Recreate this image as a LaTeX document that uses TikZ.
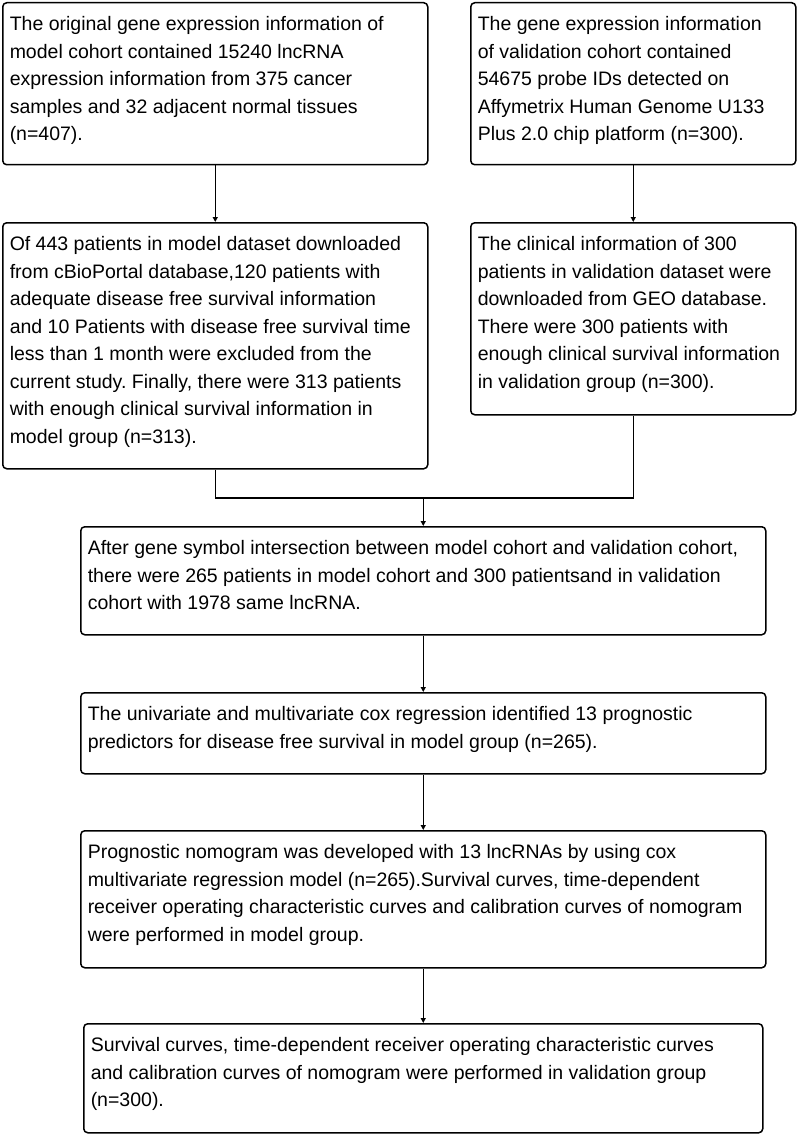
\documentclass[tikz,border=0pt]{standalone}
\usepackage{fontspec}
\setmainfont{Liberation Sans}
\usepackage{tikz}
\usetikzlibrary{arrows.meta}
\frenchspacing

\newcommand{\flowtext}[3]{\parbox[t][#2][t]{#1}{\raggedright\rule{0pt}{28pt}#3}}

\begin{document}
\begin{tikzpicture}[x=1pt,y=-1pt,
  stage/.style={draw, line width=1.5pt, rounded corners=4pt, anchor=north west,
    inner xsep=7pt, inner ysep=0pt, font=\fontsize{19.5}{27.5}\selectfont},
  link/.style={line width=1.5pt},
  flow/.style={line width=1.5pt, -{Triangle[width=5pt,length=5pt]}}]
\useasboundingbox (0,0) rectangle (797,1134);
\node[stage] (orig) at (2,2) {\flowtext{411pt}{162pt}{The original gene expression information of\\
model cohort contained 15240 lncRNA\\
expression information from 375 cancer\\
samples and 32 adjacent normal tissues\\
(n=407).}};
\node[stage] (valexpr) at (470,2) {\flowtext{311pt}{162pt}{The gene expression information\\
of validation cohort contained\\
54675 probe IDs detected on\\
Affymetrix Human Genome U133\\
Plus 2.0 chip platform (n=300).}};
\node[stage] (modelclin) at (2,222) {\flowtext{411pt}{246pt}{Of 443 patients in model dataset downloaded\\
from cBioPortal database,120 patients with\\
adequate disease free survival information\\
and 10 Patients with disease free survival time\\
less than 1 month were excluded from the\\
current study. Finally, there were 313 patients\\
with enough clinical survival information in\\
model group (n=313).}};
\node[stage] (valclin) at (470,222) {\flowtext{311pt}{192pt}{The clinical information of 300\\
patients in validation dataset were\\
downloaded from GEO database.\\
There were 300 patients with\\
enough clinical survival information\\
in validation group (n=300).}};
\node[stage] (merge) at (80,526) {\flowtext{671pt}{108pt}{After gene symbol intersection between model cohort and validation cohort,\\
there were 265 patients in model cohort and 300 patientsand in validation\\
cohort with 1978 same lncRNA.}};
\node[stage] (cox) at (80,692) {\flowtext{671pt}{81pt}{The univariate and multivariate cox regression identified 13 prognostic\\
predictors for disease free survival in model group (n=265).}};
\node[stage] (nomo) at (80,830) {\flowtext{671pt}{137pt}{Prognostic nomogram was developed with 13 lncRNAs by using cox\\
multivariate regression model (n=265).Survival curves, time-dependent\\
receiver operating characteristic curves and calibration curves of nomogram\\
were performed in model group.}};
\node[stage] (valid) at (83,1023) {\flowtext{665pt}{109pt}{Survival curves, time-dependent receiver operating characteristic curves\\
and calibration curves of nomogram were performed in validation group\\
(n=300).}};
\path (merge.north) ++(0,-28) coordinate (join);
\draw[flow] (orig) -- (modelclin);
\draw[flow] (valexpr) -- (valclin);
\draw[link] (modelclin.south) |- (join) -| (valclin.south);
\draw[flow] (join) -- (merge);
\draw[flow] (merge) -- (cox);
\draw[flow] (cox) -- (nomo);
\draw[flow] (nomo) -- (valid);
\end{tikzpicture}
\end{document}
